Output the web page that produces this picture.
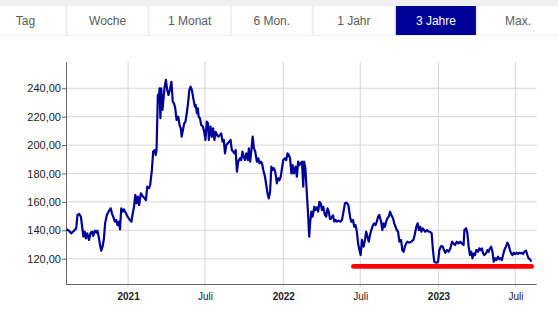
<!DOCTYPE html>
<html>
<head>
<meta charset="utf-8">
<script src="https://cdn.jsdelivr.net/npm/d3@7"></script>
<style>
  body { margin: 0; background: #fff; }
  svg { display: block; font-family: Arial, 'Liberation Sans', sans-serif; }
</style>
</head>
<body>
<div id="chart"></div>
<script>
// period tabs
var periodLabels = ['Tag', 'Woche', '1 Monat', '6 Mon.', '1 Jahr', '3 Jahre', 'Max.']
var activePeriod = '3 Jahre'

// price series: trading day offset from startDate, close price
var startDate = '2020-08-08'
var endDate = '2023-08-20'
var tradingDays = [
  1, 7, 12, 19, 24, 27, 31, 35, 38, 41, 44, 47, 50, 54, 58, 62, 64, 68, 72, 74,
  77, 80, 83, 86, 89, 92, 96, 100, 105, 108, 111, 115, 118, 121, 124, 127, 130, 133, 136, 141,
  144, 149, 154, 157, 160, 163, 166, 169, 172, 176, 180, 185, 188, 191, 195,
  198, 202, 205, 209, 211, 213, 216, 218, 220, 222, 224, 227, 229, 232, 235, 238, 241, 245, 248, 251,
  254, 257, 260, 264, 267, 270, 272, 275, 278, 281, 284, 287, 290, 293, 296, 300, 303, 305, 308, 310,
  312, 315, 318, 322, 325, 328, 331, 334, 336, 340, 343, 346, 349, 352, 355, 358, 362, 365, 368, 371,
  374, 377, 380, 384, 387, 390, 393, 396, 399, 402, 405, 409, 412, 415, 418, 421, 424, 428,
  430, 433, 436, 439, 442, 445, 449, 452, 455, 458, 461, 464, 468, 471, 474, 477, 480, 483, 486, 489,
  492, 496, 499, 502, 505, 508, 511, 515, 518, 521, 524, 527, 530, 533, 536, 540, 543, 546, 549, 552,
  555, 558, 560, 563, 566, 569, 572, 574, 577, 580, 584, 587, 590, 593, 596, 599, 602, 605, 609, 612,
  615, 618, 621, 624, 628, 631, 634, 637, 641,
  645, 649, 652, 656, 660, 664, 668, 671, 675, 678, 681, 684, 687, 690, 693, 696, 700, 703, 706, 709,
  712, 715, 718, 722, 725, 728, 731, 734, 737, 741, 744, 747, 750, 753, 756, 759, 762, 765, 769, 772,
  775, 778, 781, 784, 788, 791, 794, 797, 800, 803, 808, 812, 817, 820, 824, 827, 830, 833, 836, 839,
  842, 845, 849, 853,
  856, 860, 863, 866, 871, 875, 878, 882, 886, 889, 892, 896, 900, 904, 908, 911, 915, 919, 923, 927,
  931, 935, 937, 941, 944, 947, 950, 953, 956, 959, 962, 965, 969, 972, 975, 978, 981, 984, 988, 991,
  994, 997, 1000, 1003, 1006, 1009, 1012, 1016, 1019, 1022, 1025, 1028, 1031, 1035, 1038, 1041, 1044, 1047, 1050, 1053,
  1056, 1060, 1063, 1066, 1069, 1072, 1075, 1078, 1082, 1085, 1088, 1091, 1095
]
var closePrices = [
  140.7, 139.7, 137.9, 139.7, 141.4, 150.8, 151.5, 149.6, 142.5, 135.5, 139, 134.4, 137.9, 133.2, 138.3, 139, 136, 139.7, 138.3, 139.7,
  135.5, 129.6, 125.6, 128.5, 133.7, 144.9, 150.8, 153.1, 155.5, 152, 149.6, 146.1, 147.3, 143.7, 146.1, 140.7, 155.5, 153.1, 154.8, 152,
  150.1, 147.7, 146.1, 152, 156.6, 164.9, 159, 163.7, 157.8, 166, 164.2, 162.5, 161.3, 170.7, 169.6,
  172, 182.5, 195.4, 196.5, 193, 197, 235.3, 230.6, 240, 218.9, 240, 224.7, 231.8, 241.1, 245.9, 238.8, 235.3, 240, 244.6, 230.6,
  229.4, 225.9, 217.7, 220, 214.2, 211.8, 205.9, 210.6, 215.3, 216.5, 222.4, 229.4, 238.8, 241.1, 238.8, 231.8, 227.1, 228.3, 222.4, 225.9,
  220, 218.9, 214.2, 213, 209.4, 203.6, 216.5, 215.3, 203.6, 213, 205.9, 211.8, 203.6, 209.4, 207.1, 205.9, 207.1, 208.3, 202.4, 203.6,
  194.2, 200, 201.2, 202.4, 203.6, 196.5, 195.4, 194.2, 196.5, 181.3, 188.3, 190.7, 189.5, 195.4, 191.8, 189.5, 194.2, 189.5,
  197.7, 188.3, 196.5, 205.9, 197.7, 195.4, 188.3, 190.7, 187.2, 188.3, 187.2, 182.5, 177.7, 171.9, 166, 162.5, 167.2, 184.8, 182.5, 183.7,
  181.3, 173.1, 176.6, 175.4, 177.7, 183.7, 189.5, 190.7, 189.5, 194.2, 193, 190.7, 180, 185.9, 180, 184.8, 177.7, 188.3, 185.9, 187.2,
  188.3, 170.7, 188.3, 183.7, 168.4, 153.1, 135.5, 144.9, 153.1, 149.6, 156.6, 154.3, 156.2, 153.1, 160.1, 159, 154.3, 156.6, 150.8, 149.6,
  155.5, 153.1, 148, 148.5, 150.5, 146.1, 147.3, 146.1, 146.8,
  146.1, 147.3, 152, 159, 159.5, 157.8, 149.6, 146.1, 147.3, 142.5, 143.7, 139, 130.8, 126.1, 122.6, 133.2, 128.5, 133.2, 139, 135.5,
  132, 136.7, 140.2, 143.7, 144.9, 143.7, 146.1, 149.6, 150.8, 146.1, 140.2, 144.9, 142.5, 146.1, 148.5, 149.6, 153.1, 150.8, 148.5, 144.9,
  142.5, 140.2, 139, 132, 133.2, 126.1, 124.9, 128.5, 130.8, 132, 131.3, 132, 133.2, 136.7, 142.5, 144.9, 140.2, 142.5, 139, 141.4,
  140.2, 139, 140.2, 139,
  139, 137.9, 126.1, 117.9, 117.2, 117.7, 126.1, 128.9, 128.5, 126.1, 124.2, 126.1, 124.9, 127.3, 132, 130.8, 129.6, 132, 130.8, 132,
  130.8, 129.6, 140.2, 141.4, 137.9, 128.5, 122.6, 124.9, 120.3, 123.8, 122.6, 126.1, 124.9, 127.3, 126.1, 127.3, 123.8, 122.6, 123.8, 126.1,
  124.9, 127.3, 128.5, 124.9, 117.9, 120.3, 119.1, 121.4, 119.6, 120.3, 119.1, 122.6, 126.1, 128.9, 131.3, 129.6, 126.1, 123.8, 122.6, 124.2,
  123.3, 124.2, 123.3, 124.2, 123.8, 124.2, 123.3, 124.9, 125.6, 122.6, 120.3, 119.6, 117.9
]

// axis ticks
var yTickValues = [120, 140, 160, 180, 200, 220, 240]
var xTickDates = ['2021-01-01', '2021-07-01', '2022-01-01', '2022-07-01', '2023-01-01', '2023-07-01']
var xTickLabels = ['2021', 'Juli', '2022', 'Juli', '2023', 'Juli']

// red support line
var supportDates = ['2022-06-15', '2023-08-08']
var supportValue = 114.6

var fullWidth = 558
var fullHeight = 313
var margin = { top: 62, left: 66, right: 21.3, bottom: 29 }
var width = fullWidth - margin.left - margin.right
var height = fullHeight - margin.top - margin.bottom

var parseTime = d3.timeParse('%Y-%m-%d')
var start = parseTime(startDate)

var datapoints = tradingDays.map(function(d, i) {
  return { datetime: d3.timeDay.offset(start, d), close: closePrices[i] }
})

var svgRoot = d3
  .select('#chart')
  .append('svg')
  .attr('width', fullWidth)
  .attr('height', fullHeight)

// tabs
var tabBand = d3
  .scaleBand()
  .domain(periodLabels)
  .range([-14.5, fullWidth])
  .paddingInner(0.025)

svgRoot
  .append('rect')
  .attr('x', 0)
  .attr('y', 0)
  .attr('width', fullWidth)
  .attr('height', 36)
  .attr('fill', '#efefef')

var tabs = svgRoot
  .selectAll('.tab')
  .data(periodLabels)
  .enter()
  .append('g')
  .attr('class', 'tab')
  .attr('transform', function(d) {
    return 'translate(' + tabBand(d) + ',6)'
  })

tabs
  .append('rect')
  .attr('width', tabBand.bandwidth())
  .attr('height', 29)
  .attr('fill', function(d) {
    return d === activePeriod ? '#000099' : '#fff'
  })

tabs
  .append('text')
  .text(function(d) {
    return d
  })
  .attr('x', tabBand.bandwidth() / 2)
  .attr('y', 19)
  .attr('text-anchor', 'middle')
  .attr('font-size', 12)
  .attr('fill', function(d) {
    return d === activePeriod ? '#fff' : '#5a5a5a'
  })

var svg = svgRoot
  .append('g')
  .attr('transform', 'translate(' + margin.left + ',' + margin.top + ')')

var xPositionScale = d3
  .scaleTime()
  .domain([start, parseTime(endDate)])
  .range([0, width])

var yPositionScale = d3
  .scaleLinear()
  .domain([102.2, 258.5])
  .range([height, 0])

var de = d3.formatLocale({ decimal: ',', thousands: '.', grouping: [3], currency: ['', ' €'] })

// grid + axes
var yAxis = d3
  .axisLeft(yPositionScale)
  .tickValues(yTickValues)
  .tickFormat(de.format(',.2f'))
  .tickSizeOuter(0)
  .tickSize(4)
  .tickPadding(1)

svg
  .append('g')
  .attr('class', 'grid y-grid')
  .selectAll('line')
  .data(yTickValues)
  .enter()
  .append('line')
  .attr('x1', 0)
  .attr('x2', width)
  .attr('y1', function(d) { return yPositionScale(d) })
  .attr('y2', function(d) { return yPositionScale(d) })
  .attr('stroke', '#d6d6d6')

var xDates = xTickDates.map(parseTime)

svg
  .append('g')
  .attr('class', 'grid x-grid')
  .selectAll('line')
  .data(xDates)
  .enter()
  .append('line')
  .attr('x1', function(d) { return xPositionScale(d) })
  .attr('x2', function(d) { return xPositionScale(d) })
  .attr('y1', 0)
  .attr('y2', height + 3)
  .attr('stroke', '#d6d6d6')

var yAxisG = svg
  .append('g')
  .attr('class', 'axis y-axis')
  .call(yAxis)

yAxisG.select('.domain').remove()
yAxisG.selectAll('line').attr('stroke', '#666')
yAxisG
  .selectAll('text')
  .attr('font-size', 11)
  .attr('font-family', 'Arial, Liberation Sans, sans-serif')
  .attr('fill', '#222')

var xAxis = d3
  .axisBottom(xPositionScale)
  .tickValues(xDates)
  .tickSize(0)
  .tickSizeOuter(0)
  .tickPadding(9)
  .tickFormat(function(d, i) {
    return xTickLabels[i]
  })

var xAxisG = svg
  .append('g')
  .attr('class', 'axis x-axis')
  .attr('transform', 'translate(0,' + height + ')')
  .call(xAxis)

xAxisG.select('.domain').remove()
xAxisG
  .selectAll('text')
  .attr('font-size', 10)
  .attr('font-family', 'Arial, Liberation Sans, sans-serif')
  .attr('fill', '#222')
  .attr('font-weight', function(d, i) {
    return xTickLabels[i] === 'Juli' ? 'normal' : 'bold'
  })

svg
  .append('line')
  .attr('x1', 0)
  .attr('x2', width)
  .attr('y1', height + 0.5)
  .attr('y2', height + 0.5)
  .attr('stroke', '#666')

svg
  .append('line')
  .attr('x1', 0.5)
  .attr('x2', 0.5)
  .attr('y1', 0)
  .attr('y2', height)
  .attr('stroke', '#666')

// price line
var line = d3
  .line()
  .x(function(d) {
    return xPositionScale(d.datetime)
  })
  .y(function(d) {
    return yPositionScale(d.close)
  })

svg
  .append('path')
  .datum(datapoints)
  .attr('d', line)
  .attr('stroke', '#000099')
  .attr('stroke-width', 2.2)
  .attr('stroke-linejoin', 'round')
  .attr('fill', 'none')

// red support line
svg
  .append('line')
  .attr('x1', xPositionScale(parseTime(supportDates[0])))
  .attr('x2', xPositionScale(parseTime(supportDates[1])))
  .attr('y1', yPositionScale(supportValue))
  .attr('y2', yPositionScale(supportValue))
  .attr('stroke', '#ff0000')
  .attr('stroke-width', 4.8)
  .attr('stroke-linecap', 'round')
</script>
</body>
</html>
